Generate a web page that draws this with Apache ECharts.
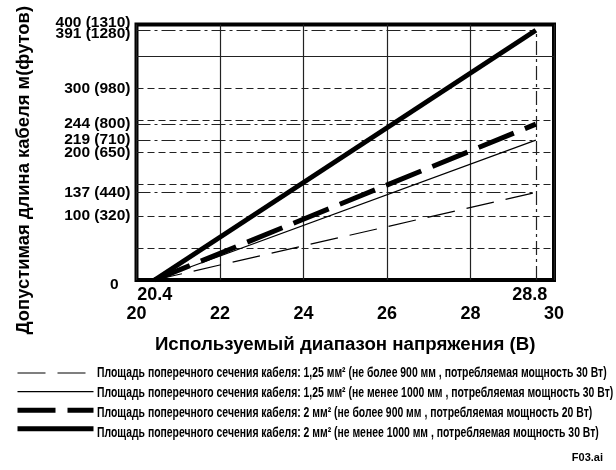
<!DOCTYPE html>
<html><head><meta charset="utf-8">
<script src="https://cdn.jsdelivr.net/npm/echarts@6/dist/echarts.min.js"></script>
<style>html,body{margin:0;padding:0;background:#fff}#c{width:616px;height:470px}</style>
</head><body><div id="c"></div>
<script>
// ---- data ----
const voltageStart = 20.4;            // V, где все линии начинаются (0 м)
const voltageEnd = 28.8;              // V, где заканчиваются линии
const seriesNames = [
  'Площадь поперечного сечения кабеля: 1,25 мм² (не более 900 мм , потребляемая мощность 30 Вт)',
  'Площадь поперечного сечения кабеля: 1,25 мм² (не менее 1000 мм , потребляемая мощность 30 Вт)',
  'Площадь поперечного сечения кабеля: 2 мм² (не более 900 мм , потребляемая мощность 20 Вт)',
  'Площадь поперечного сечения кабеля: 2 мм² (не менее 1000 мм , потребляемая мощность 30 Вт)'
];
const lengthAtStart = [0, 0, 0, 0];
const lengthAtEnd = [137, 219, 244, 391]; // м при 28.8 В
const xTickValues = [20, 22, 24, 26, 28, 30];
const xMarkedValues = [20.4, 28.8];
const yTickValues = [0, 100, 137, 200, 219, 244, 300, 391];
const yTickFeet = ['', '320', '440', '650', '710', '800', '980', '1280'];
const yTopValue = [400];
const yTopFeet = ['1310'];
const yDashedGrid = [50, 100, 150, 200, 250, 300];
const ySolidGrid = [350];
const yDashDotGrid = [137, 219, 244, 391];
const xTitle = 'Используемый диапазон напряжения (В)';
const yTitle = 'Допустимая длина кабеля м(футов)';
const figId = 'F03.ai';

// ---- styles ----
const lineStyles = [
  {width: 1.2, type: [28, 12]},
  {width: 1.2, type: 'solid'},
  {width: 5, type: [38, 12]},
  {width: 5, type: 'solid'}
];
const gridColor = '#222';
const dashed = {color: gridColor, width: 1.2, type: [7, 4]};
const solid = {color: gridColor, width: 1.2, type: 'solid'};
const dashDot = {color: gridColor, width: 1.2, type: [14, 4, 3, 4]};
const legendLeft = 15, legendTop = 366, legendRow = 20, legendIconW = 76;

const chart = echarts.init(document.getElementById('c'), null, {renderer: 'canvas'});

const markData = [];
yDashedGrid.forEach(v => markData.push({yAxis: v, lineStyle: dashed}));
ySolidGrid.forEach(v => markData.push({yAxis: v, lineStyle: solid}));
yDashDotGrid.forEach(v => markData.push([{coord: [20, v], lineStyle: dashDot}, {coord: [voltageEnd, v]}]));
markData.push([{coord: [voltageEnd, 0], lineStyle: dashDot}, {coord: [voltageEnd, lengthAtEnd[3]]}]);

const series = seriesNames.map((name, i) => ({
  name: name,
  type: 'line',
  xAxisIndex: 0,
  yAxisIndex: 0,
  showSymbol: false,
  symbol: 'none',
  z: 5,
  lineStyle: Object.assign({color: '#000'}, lineStyles[i]),
  itemStyle: {color: '#000'},
  data: [[voltageStart, lengthAtStart[i]], [voltageEnd, lengthAtEnd[i]]]
}));
series.unshift({
  name: 'grid',
  type: 'line',
  xAxisIndex: 0,
  yAxisIndex: 0,
  z: 1,
  symbol: 'none',
  lineStyle: {width: 0},
  data: [[20, 0]],
  markLine: {silent: true, symbol: 'none', label: {show: false}, animation: false, data: markData}
});

const bold = {color: '#000', fontWeight: 'bold', fontFamily: 'Liberation Sans, Arial, sans-serif'};

// condensed legend labels (real text, horizontally compressed like the narrow original font)
const legendTexts = seriesNames.map((name, i) => ({
  type: 'text',
  x: legendLeft + legendIconW + 6,
  y: legendTop + 7 + i * legendRow,
  scaleX: 0.743,
  silent: true,
  style: {text: name, fill: '#000', font: 'bold 14px "Liberation Sans", Arial, sans-serif', verticalAlign: 'middle', align: 'left'}
}));

const yLabelBase = Object.assign({}, bold, {fontSize: 15.5, margin: 6});

chart.setOption({
  animation: false,
  backgroundColor: '#fff',
  title: {text: figId, right: 8, top: 447, textStyle: Object.assign({}, bold, {fontSize: 11})},
  grid: {left: 136.5, right: 62, top: 24.5, bottom: 190, show: true, borderWidth: 4, borderColor: '#000', backgroundColor: 'transparent'},
  legend: {
    data: seriesNames,
    orient: 'vertical',
    left: legendLeft,
    top: legendTop,
    padding: 0,
    itemWidth: legendIconW,
    itemHeight: 14,
    itemGap: legendRow - 14,
    formatter: () => '',
    itemStyle: {opacity: 0},
    lineStyle: {width: 'inherit'},
    textStyle: {fontSize: 1}
  },
  graphic: legendTexts,
  xAxis: [
    {
      type: 'value', min: 20, max: 29.2, position: 'bottom',
      axisLine: {show: false}, axisTick: {show: false}, splitLine: {show: false},
      axisLabel: Object.assign({}, bold, {
        fontSize: 18, margin: 6, customValues: xMarkedValues,
        formatter: v => Math.abs(v - 28.8) < 1e-6 ? '{r|28.8}' : v.toFixed(1),
        rich: {r: Object.assign({}, bold, {fontSize: 18, padding: [0, 12, 0, 0]})}
      })
    },
    {
      type: 'value', min: 20, max: 30, interval: 2, position: 'bottom',
      axisLine: {show: false}, axisTick: {show: false},
      splitLine: {show: true, lineStyle: {color: gridColor, width: 1.2}},
      axisLabel: Object.assign({}, bold, {fontSize: 18, margin: 25, customValues: xTickValues, showMinLabel: true, showMaxLabel: true}),
      name: xTitle, nameLocation: 'middle', nameGap: 55,
      nameTextStyle: Object.assign({}, bold, {fontSize: 18.7})
    }
  ],
  yAxis: [
    {
      type: 'value', min: 0, max: 400,
      axisLine: {show: false}, axisTick: {show: false}, splitLine: {show: false},
      axisLabel: Object.assign({}, yLabelBase, {
        customValues: yTickValues, showMinLabel: true, showMaxLabel: true,
        formatter: v => {
          const i = yTickValues.indexOf(v);
          if (v === 0) return '{z|0}';
          if (v === 391) return '{d|391 (1280)}';
          return i >= 0 ? v + ' (' + yTickFeet[i] + ')' : '';
        },
        rich: {
          z: Object.assign({}, bold, {fontSize: 15.5, padding: [10, 12, 0, 0]}),
          d: Object.assign({}, bold, {fontSize: 15.5, padding: [6, 0, 0, 0]})
        }
      }),
      name: yTitle, nameLocation: 'middle', nameGap: 104,
      nameTextStyle: Object.assign({}, bold, {fontSize: 18.4, padding: [0, 36, 0, 0]})
    },
    {
      type: 'value', min: 0, max: 400, position: 'left',
      axisLine: {show: false}, axisTick: {show: false}, splitLine: {show: false},
      axisLabel: Object.assign({}, yLabelBase, {
        customValues: yTopValue, showMinLabel: true, showMaxLabel: true,
        formatter: v => '{u|' + v + ' (' + yTopFeet[yTopValue.indexOf(v)] + ')}',
        rich: {u: Object.assign({}, bold, {fontSize: 15.5, padding: [0, 0, 4, 0]})}
      })
    }
  ],
  series: series
});
</script></body></html>
